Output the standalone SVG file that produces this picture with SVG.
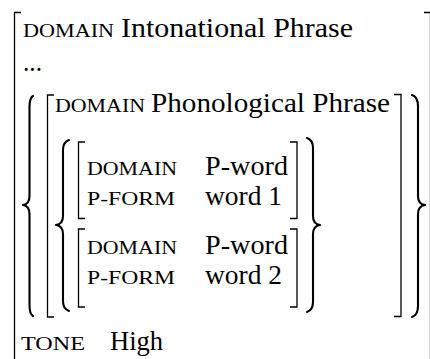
<svg xmlns="http://www.w3.org/2000/svg" width="430" height="359" viewBox="0 0 430 359">
<style>
  .v { font-size: 27.5px; fill: #000; }
  .sc { font-size: 18px; fill: #000; }
  .br { fill: none; stroke: #000; stroke-width: 1.3; stroke-linecap: butt; }
  .bc { fill: none; stroke: #000; stroke-width: 2.1; stroke-linecap: round; stroke-linejoin: round; }
</style>
<rect width="430" height="359" fill="#fff"/>
<g font-family="Liberation Serif, DejaVu Serif, serif">
<g id="outer-avm">
  <path class="br" d="M21,12.5 H14.5 V362"/>
  <path class="br" d="M424,12.5 H430.5 V362"/>
  <text class="sc" x="23" y="37" textLength="91" lengthAdjust="spacingAndGlyphs">DOMAIN</text>
  <text class="v" x="121" y="37" textLength="232" lengthAdjust="spacingAndGlyphs">Intonational Phrase</text>
  <text class="v" x="23" y="71" textLength="19" lengthAdjust="spacingAndGlyphs">...</text>
  <text class="sc" x="21" y="350" textLength="64" lengthAdjust="spacingAndGlyphs">TONE</text>
  <text class="v" x="110" y="350" textLength="53" lengthAdjust="spacingAndGlyphs">High</text>
</g>
<g id="phrase-set">
  <path class="bc" d="M33,96 Q29.5,98 29.5,107 L29.5,196 Q29.5,204 23,205 Q29.5,206 29.5,214 L29.5,305 Q29.5,314 33,316"/>
  <path class="bc" d="M412,95 Q418,97 418,106 L418,196 Q418,204 425,205 Q418,206 418,214 L418,306 Q418,315 412,317"/>
</g>
<g id="phonological-phrase">
  <path class="br" d="M54,95 H47.5 V317 H54"/>
  <path class="br" d="M394,94.5 H401 V316.5 H394"/>
  <text class="sc" x="55" y="112" textLength="90" lengthAdjust="spacingAndGlyphs">DOMAIN</text>
  <text class="v" x="151" y="112" textLength="239" lengthAdjust="spacingAndGlyphs">Phonological Phrase</text>
</g>
<g id="pword-set">
  <path class="bc" d="M69,140 Q63,142 63,150 L63,216 Q63,224 56,225 Q63,226 63,234 L63,301 Q63,309 69,311"/>
  <path class="bc" d="M307,138 Q313,140 313,148 L313,216 Q313,224 320,225 Q313,226 313,234 L313,302 Q313,310 307,312"/>
</g>
<g id="pword-1">
  <path class="br" d="M85,142 H78.5 V218.5 H85"/>
  <path class="br" d="M290,142 H297 V218.5 H290"/>
  <text class="sc" x="87" y="175" textLength="90" lengthAdjust="spacingAndGlyphs">DOMAIN</text>
  <text class="v" x="205" y="175" textLength="83" lengthAdjust="spacingAndGlyphs">P-word</text>
  <text class="sc" x="87" y="205" textLength="88" lengthAdjust="spacingAndGlyphs">P-FORM</text>
  <text class="v" x="205" y="205" textLength="77" lengthAdjust="spacingAndGlyphs">word 1</text>
</g>
<g id="pword-2">
  <path class="br" d="M85,229 H78.5 V307 H85"/>
  <path class="br" d="M290,229 H297 V307 H290"/>
  <text class="sc" x="87" y="254" textLength="90" lengthAdjust="spacingAndGlyphs">DOMAIN</text>
  <text class="v" x="205" y="254" textLength="83" lengthAdjust="spacingAndGlyphs">P-word</text>
  <text class="sc" x="87" y="284" textLength="88" lengthAdjust="spacingAndGlyphs">P-FORM</text>
  <text class="v" x="205" y="284" textLength="77" lengthAdjust="spacingAndGlyphs">word 2</text>
</g>
</g>
</svg>
